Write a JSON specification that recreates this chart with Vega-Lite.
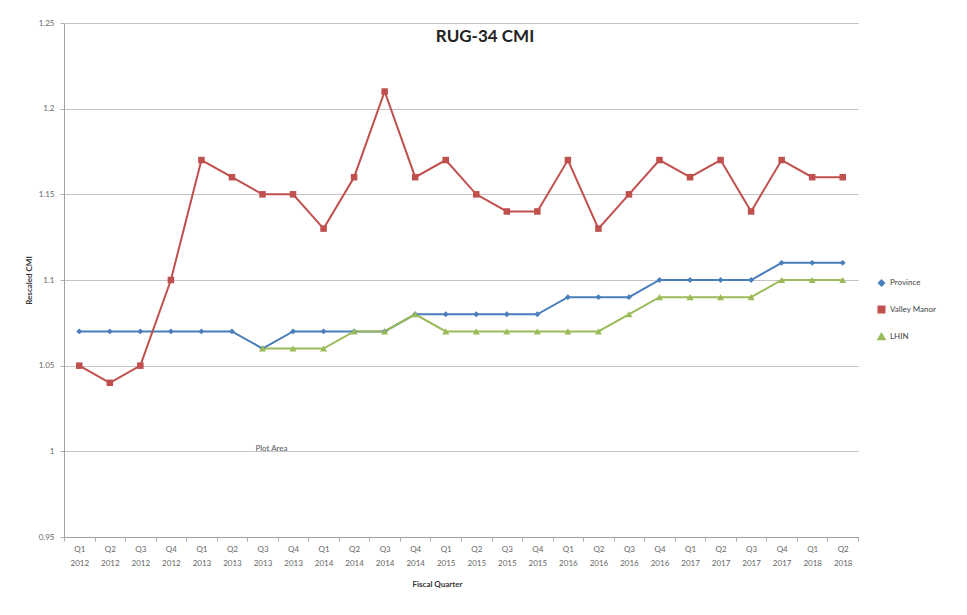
{
  "$schema": "https://vega.github.io/schema/vega-lite/v6.json",
  "width": 794,
  "height": 514,
  "autosize": "none",
  "padding": {"left": 64, "top": 23, "right": 109, "bottom": 78},
  "background": "white",
  "config": {
    "font": "Lato",
    "view": {"stroke": null},
    "axis": {"labelFont": "Lato", "titleFont": "Lato"},
    "legend": {"labelFont": "Lato"}
  },
  "title": {
    "text": "RUG-34 CMI",
    "fontSize": 17,
    "fontWeight": "bold",
    "color": "#222222",
    "font": "Lato",
    "anchor": "middle",
    "dx": 24,
    "offset": -27
  },
  "datasets": {
    "cmi": [
      {"q": "Q1 2012", "series": "Province", "v": 1.07},
      {"q": "Q2 2012", "series": "Province", "v": 1.07},
      {"q": "Q3 2012", "series": "Province", "v": 1.07},
      {"q": "Q4 2012", "series": "Province", "v": 1.07},
      {"q": "Q1 2013", "series": "Province", "v": 1.07},
      {"q": "Q2 2013", "series": "Province", "v": 1.07},
      {"q": "Q3 2013", "series": "Province", "v": 1.06},
      {"q": "Q4 2013", "series": "Province", "v": 1.07},
      {"q": "Q1 2014", "series": "Province", "v": 1.07},
      {"q": "Q2 2014", "series": "Province", "v": 1.07},
      {"q": "Q3 2014", "series": "Province", "v": 1.07},
      {"q": "Q4 2014", "series": "Province", "v": 1.08},
      {"q": "Q1 2015", "series": "Province", "v": 1.08},
      {"q": "Q2 2015", "series": "Province", "v": 1.08},
      {"q": "Q3 2015", "series": "Province", "v": 1.08},
      {"q": "Q4 2015", "series": "Province", "v": 1.08},
      {"q": "Q1 2016", "series": "Province", "v": 1.09},
      {"q": "Q2 2016", "series": "Province", "v": 1.09},
      {"q": "Q3 2016", "series": "Province", "v": 1.09},
      {"q": "Q4 2016", "series": "Province", "v": 1.10},
      {"q": "Q1 2017", "series": "Province", "v": 1.10},
      {"q": "Q2 2017", "series": "Province", "v": 1.10},
      {"q": "Q3 2017", "series": "Province", "v": 1.10},
      {"q": "Q4 2017", "series": "Province", "v": 1.11},
      {"q": "Q1 2018", "series": "Province", "v": 1.11},
      {"q": "Q2 2018", "series": "Province", "v": 1.11},

      {"q": "Q1 2012", "series": "Valley Manor", "v": 1.05},
      {"q": "Q2 2012", "series": "Valley Manor", "v": 1.04},
      {"q": "Q3 2012", "series": "Valley Manor", "v": 1.05},
      {"q": "Q4 2012", "series": "Valley Manor", "v": 1.10},
      {"q": "Q1 2013", "series": "Valley Manor", "v": 1.17},
      {"q": "Q2 2013", "series": "Valley Manor", "v": 1.16},
      {"q": "Q3 2013", "series": "Valley Manor", "v": 1.15},
      {"q": "Q4 2013", "series": "Valley Manor", "v": 1.15},
      {"q": "Q1 2014", "series": "Valley Manor", "v": 1.13},
      {"q": "Q2 2014", "series": "Valley Manor", "v": 1.16},
      {"q": "Q3 2014", "series": "Valley Manor", "v": 1.21},
      {"q": "Q4 2014", "series": "Valley Manor", "v": 1.16},
      {"q": "Q1 2015", "series": "Valley Manor", "v": 1.17},
      {"q": "Q2 2015", "series": "Valley Manor", "v": 1.15},
      {"q": "Q3 2015", "series": "Valley Manor", "v": 1.14},
      {"q": "Q4 2015", "series": "Valley Manor", "v": 1.14},
      {"q": "Q1 2016", "series": "Valley Manor", "v": 1.17},
      {"q": "Q2 2016", "series": "Valley Manor", "v": 1.13},
      {"q": "Q3 2016", "series": "Valley Manor", "v": 1.15},
      {"q": "Q4 2016", "series": "Valley Manor", "v": 1.17},
      {"q": "Q1 2017", "series": "Valley Manor", "v": 1.16},
      {"q": "Q2 2017", "series": "Valley Manor", "v": 1.17},
      {"q": "Q3 2017", "series": "Valley Manor", "v": 1.14},
      {"q": "Q4 2017", "series": "Valley Manor", "v": 1.17},
      {"q": "Q1 2018", "series": "Valley Manor", "v": 1.16},
      {"q": "Q2 2018", "series": "Valley Manor", "v": 1.16},

      {"q": "Q3 2013", "series": "LHIN", "v": 1.06},
      {"q": "Q4 2013", "series": "LHIN", "v": 1.06},
      {"q": "Q1 2014", "series": "LHIN", "v": 1.06},
      {"q": "Q2 2014", "series": "LHIN", "v": 1.07},
      {"q": "Q3 2014", "series": "LHIN", "v": 1.07},
      {"q": "Q4 2014", "series": "LHIN", "v": 1.08},
      {"q": "Q1 2015", "series": "LHIN", "v": 1.07},
      {"q": "Q2 2015", "series": "LHIN", "v": 1.07},
      {"q": "Q3 2015", "series": "LHIN", "v": 1.07},
      {"q": "Q4 2015", "series": "LHIN", "v": 1.07},
      {"q": "Q1 2016", "series": "LHIN", "v": 1.07},
      {"q": "Q2 2016", "series": "LHIN", "v": 1.07},
      {"q": "Q3 2016", "series": "LHIN", "v": 1.08},
      {"q": "Q4 2016", "series": "LHIN", "v": 1.09},
      {"q": "Q1 2017", "series": "LHIN", "v": 1.09},
      {"q": "Q2 2017", "series": "LHIN", "v": 1.09},
      {"q": "Q3 2017", "series": "LHIN", "v": 1.09},
      {"q": "Q4 2017", "series": "LHIN", "v": 1.10},
      {"q": "Q1 2018", "series": "LHIN", "v": 1.10},
      {"q": "Q2 2018", "series": "LHIN", "v": 1.10}
    ],
    "note": [{"q": "Q3 2013", "v": 1.0, "label": "Plot Area"}]
  },
  "encoding": {
    "x": {
      "field": "q",
      "type": "ordinal",
      "scale": {
        "domain": ["Q1 2012", "Q2 2012", "Q3 2012", "Q4 2012", "Q1 2013", "Q2 2013", "Q3 2013", "Q4 2013", "Q1 2014", "Q2 2014", "Q3 2014", "Q4 2014", "Q1 2015", "Q2 2015", "Q3 2015", "Q4 2015", "Q1 2016", "Q2 2016", "Q3 2016", "Q4 2016", "Q1 2017", "Q2 2017", "Q3 2017", "Q4 2017", "Q1 2018", "Q2 2018"],
        "paddingInner": 0,
        "paddingOuter": 0
      },
      "axis": {
        "title": "Fiscal Quarter",
        "titleFontSize": 8,
        "titleFontWeight": "bold",
        "titleColor": "#333333",
        "titleX": 373,
        "titleY": 47,
        "titleBaseline": "middle",
        "labelAngle": 0,
        "labelExpr": "split(datum.label, ' ')",
        "labelFontSize": 8,
        "labelColor": "#666666",
        "labelLineHeight": 14,
        "labelPadding": 4,
        "tickBand": "extent",
        "tickSize": 4,
        "tickColor": "#b0b0b0",
        "domainColor": "#a0a0a0",
        "grid": false
      }
    },
    "y": {
      "field": "v",
      "type": "quantitative",
      "scale": {"domain": [0.95, 1.25], "nice": false, "zero": false},
      "axis": {
        "title": "Rescaled CMI",
        "titleFontSize": 8,
        "titleFontWeight": "bold",
        "titleColor": "#333333",
        "titlePadding": 5,
        "values": [0.95, 1, 1.05, 1.1, 1.15, 1.2, 1.25],
        "format": "~g",
        "labelFontSize": 8,
        "labelColor": "#666666",
        "labelPadding": 6,
        "tickSize": 4,
        "tickColor": "#b0b0b0",
        "domainColor": "#a0a0a0",
        "grid": true,
        "gridColor": "#c4c4c4",
        "gridWidth": 1.2
      }
    }
  },
  "layer": [
    {
      "data": {"name": "cmi"},
      "encoding": {
        "color": {
          "field": "series",
          "type": "nominal",
          "sort": ["Province", "Valley Manor", "LHIN"],
          "scale": {"domain": ["Province", "Valley Manor", "LHIN"], "range": ["#4a7ebb", "#c0504d", "#9bbb59"]},
          "legend": {
            "title": null,
            "orient": "none",
            "legendX": 813,
            "legendY": 256,
            "labelFontSize": 8,
            "labelColor": "#444444",
            "rowPadding": 14,
            "symbolSize": 50
          }
        }
      },
      "layer": [
        {"mark": {"type": "line", "strokeWidth": 2}},
        {
          "mark": {"type": "point", "filled": true, "opacity": 1},
          "encoding": {
            "shape": {
              "field": "series",
              "type": "nominal",
              "sort": ["Province", "Valley Manor", "LHIN"],
              "scale": {"domain": ["Province", "Valley Manor", "LHIN"], "range": ["diamond", "square", "triangle-up"]},
              "legend": {
                "title": null,
                "orient": "none",
                "legendX": 813,
                "legendY": 256,
                "labelFontSize": 8,
                "labelColor": "#444444",
                "rowPadding": 14,
                "symbolSize": 50
              }
            },
            "size": {
              "field": "series",
              "type": "nominal",
              "scale": {"domain": ["Province", "Valley Manor", "LHIN"], "range": [35, 50, 35]},
              "legend": null
            }
          }
        }
      ]
    },
    {
      "data": {"name": "note"},
      "mark": {"type": "text", "fontSize": 8, "color": "#555555", "dx": 9, "dy": -2},
      "encoding": {
        "text": {"field": "label"}
      }
    }
  ]
}
